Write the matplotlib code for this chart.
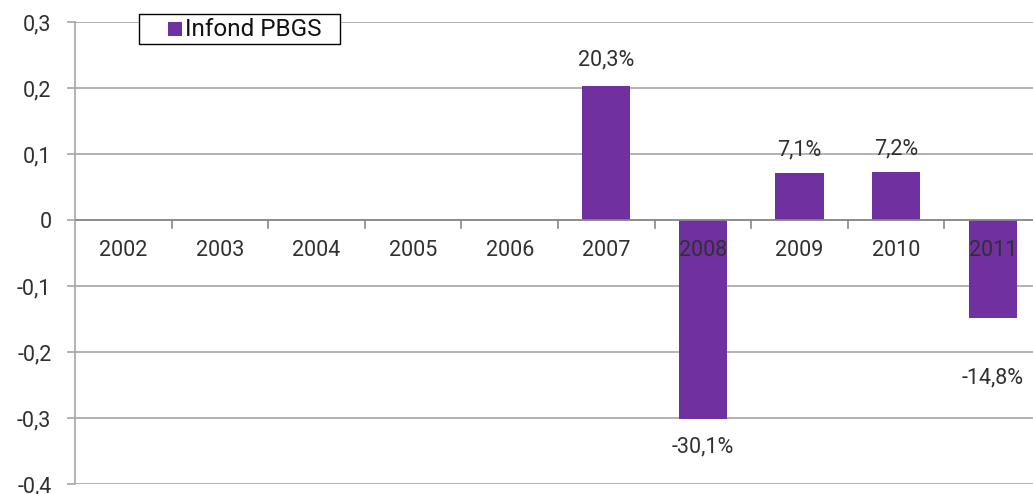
import matplotlib
matplotlib.use("Agg")
import matplotlib.pyplot as plt
from matplotlib.patches import Rectangle

years = ["2002", "2003", "2004", "2005", "2006", "2007", "2008", "2009", "2010", "2011"]
values = [None, None, None, None, None, 0.203, -0.301, 0.071, 0.072, -0.148]
value_labels = ["", "", "", "", "", "20,3%", "-30,1%", "7,1%", "7,2%", "-14,8%"]
yticks = [-0.4, -0.3, -0.2, -0.1, 0.0, 0.1, 0.2, 0.3]
ytick_labels = ["-0,4", "-0,3", "-0,2", "-0,1", "0", "0,1", "0,2", "0,3"]
series_name = "Infond PBGS"

plt.rcParams["font.family"] = ["Roboto", "DejaVu Sans"]

W, H = 1033, 494
fig = plt.figure(figsize=(W / 100, H / 100), dpi=100)
left, right, top, bottom = 75, 1041, 22, 484
ax = fig.add_axes([left / W, 1 - bottom / H, (right - left) / W, (bottom - top) / H])

purple = "#7030A0"
grid = "#a6a6a6"
txt = "#303030"
fs = 15.5

for i, v in enumerate(values):
    if v is None:
        continue
    ax.bar(i, v, width=0.5, color=purple, zorder=3)

ax.set_xlim(-0.5, len(years) - 0.5)
ax.set_ylim(-0.4, 0.3)
ax.set_yticks(yticks)
ax.set_yticklabels(ytick_labels)
ax.yaxis.grid(True, color=grid, linewidth=1.2, zorder=0)
ax.tick_params(axis="y", length=6, color=grid, width=1.2, labelsize=fs, labelcolor=txt, pad=11)
ax.set_xticks([])
for s in ["top", "right", "bottom"]:
    ax.spines[s].set_visible(False)
ax.spines["left"].set_color(grid)
ax.spines["left"].set_linewidth(1.2)

ax.axhline(0, color="#888888", linewidth=1.2, zorder=4)
for i in range(1, len(years)):
    ax.plot([i - 0.5, i - 0.5], [0, -0.012], color="#888888", linewidth=1.2, zorder=4, clip_on=False)

for i, y in enumerate(years):
    ax.annotate(y, (i, 0), xytext=(0, -30), textcoords="offset pixels",
                ha="center", va="center", fontsize=fs, color=txt, zorder=5)

offsets = {5: 26, 6: -28, 7: 23, 8: 24, 9: -60}
for i, (v, lab) in enumerate(zip(values, value_labels)):
    if v is None:
        continue
    ax.annotate(lab, (i, v), xytext=(0, offsets[i]), textcoords="offset pixels",
                ha="center", va="center", fontsize=fs, color=txt, zorder=5, annotation_clip=False)

# legend drawn manually in pixel-based figure coordinates
def fx(px):
    return px / W

def fy(py):
    return 1 - py / H

fig.patches.append(Rectangle((fx(139), fy(44)), fx(340) - fx(139), fy(14) - fy(44),
                             transform=fig.transFigure, facecolor="white", edgecolor="black",
                             linewidth=1.0, zorder=10))
fig.patches.append(Rectangle((fx(168), fy(36)), fx(182) - fx(168), fy(22) - fy(36),
                             transform=fig.transFigure, facecolor=purple, edgecolor="none", zorder=11))
fig.text(fx(185), fy(29.5), series_name, ha="left", va="center", fontsize=17.5,
         color="#111111", zorder=12)

fig.savefig("out.png", dpi=100)
